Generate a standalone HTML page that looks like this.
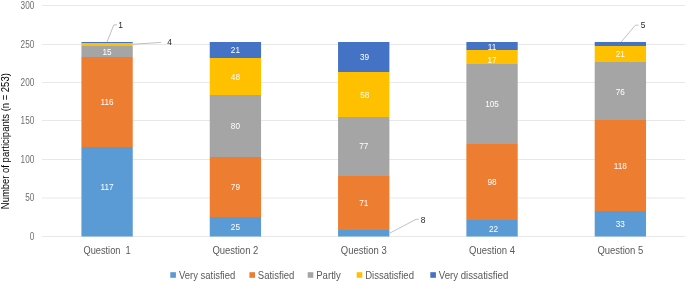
<!DOCTYPE html>
<html><head><meta charset="utf-8"><style>
html,body{margin:0;padding:0;background:#fff;}
body{width:685px;height:282px;overflow:hidden;}
svg{display:block;will-change:transform;filter:blur(0.4px);}
text{font-family:"Liberation Sans",sans-serif;}
.yl{font-size:10.4px;fill:#6E6E6E;}
.dl{font-size:8.2px;fill:#FFFFFF;}
.ol{font-size:8.4px;fill:#262626;}
.xl{font-size:10.2px;fill:#595959;}
.lg{font-size:10px;fill:#595959;}
.yt{font-size:11.4px;fill:#000;}
</style></head><body>
<svg width="685" height="282" viewBox="0 0 685 282">
<rect width="685" height="282" fill="#fff"/>
<line x1="42" x2="685" y1="236.5" y2="236.5" stroke="#E8E8E8" stroke-width="1"/>
<line x1="42" x2="685" y1="198.0" y2="198.0" stroke="#E8E8E8" stroke-width="1"/>
<line x1="42" x2="685" y1="159.5" y2="159.5" stroke="#E8E8E8" stroke-width="1"/>
<line x1="42" x2="685" y1="120.5" y2="120.5" stroke="#E8E8E8" stroke-width="1"/>
<line x1="42" x2="685" y1="82.5" y2="82.5" stroke="#E8E8E8" stroke-width="1"/>
<line x1="42" x2="685" y1="44.5" y2="44.5" stroke="#E8E8E8" stroke-width="1"/>
<line x1="42" x2="685" y1="5.5" y2="5.5" stroke="#E8E8E8" stroke-width="1"/>
<text transform="translate(34.3,239.7) scale(0.79,1)" class="yl" text-anchor="end">0</text>
<text transform="translate(34.3,201.2) scale(0.79,1)" class="yl" text-anchor="end">50</text>
<text transform="translate(34.3,162.7) scale(0.79,1)" class="yl" text-anchor="end">100</text>
<text transform="translate(34.3,123.7) scale(0.79,1)" class="yl" text-anchor="end">150</text>
<text transform="translate(34.3,85.7) scale(0.79,1)" class="yl" text-anchor="end">200</text>
<text transform="translate(34.3,47.7) scale(0.79,1)" class="yl" text-anchor="end">250</text>
<text transform="translate(34.3,8.7) scale(0.79,1)" class="yl" text-anchor="end">300</text>
<rect x="81.42" y="147.00" width="51.33" height="89.50" fill="#5B9BD5"/>
<rect x="81.42" y="57.00" width="51.33" height="90.00" fill="#ED7D31"/>
<rect x="81.42" y="46.00" width="51.33" height="11.00" fill="#A5A5A5"/>
<rect x="81.42" y="43.00" width="51.33" height="3.00" fill="#FFC000"/>
<rect x="81.42" y="42.00" width="51.33" height="1.00" fill="#4472C4"/>
<text x="107.08" y="190.43" class="dl" text-anchor="middle">117</text>
<text x="107.08" y="105.26" class="dl" text-anchor="middle">116</text>
<text x="107.08" y="54.90" class="dl" text-anchor="middle">15</text>
<rect x="209.74" y="217.00" width="51.33" height="19.50" fill="#5B9BD5"/>
<rect x="209.74" y="157.00" width="51.33" height="60.00" fill="#ED7D31"/>
<rect x="209.74" y="95.00" width="51.33" height="62.00" fill="#A5A5A5"/>
<rect x="209.74" y="58.00" width="51.33" height="37.00" fill="#FFC000"/>
<rect x="209.74" y="42.00" width="51.33" height="16.00" fill="#4472C4"/>
<text x="235.40" y="230.19" class="dl" text-anchor="middle">25</text>
<text x="235.40" y="190.21" class="dl" text-anchor="middle">79</text>
<text x="235.40" y="129.09" class="dl" text-anchor="middle">80</text>
<text x="235.40" y="79.89" class="dl" text-anchor="middle">48</text>
<text x="235.40" y="53.37" class="dl" text-anchor="middle">21</text>
<rect x="338.06" y="230.00" width="51.33" height="6.50" fill="#5B9BD5"/>
<rect x="338.06" y="176.00" width="51.33" height="54.00" fill="#ED7D31"/>
<rect x="338.06" y="117.00" width="51.33" height="59.00" fill="#A5A5A5"/>
<rect x="338.06" y="72.00" width="51.33" height="45.00" fill="#FFC000"/>
<rect x="338.06" y="42.00" width="51.33" height="30.00" fill="#4472C4"/>
<text x="363.72" y="206.36" class="dl" text-anchor="middle">71</text>
<text x="363.72" y="149.47" class="dl" text-anchor="middle">77</text>
<text x="364.72" y="97.57" class="dl" text-anchor="middle">58</text>
<text x="364.62" y="60.29" class="dl" text-anchor="middle">39</text>
<rect x="466.38" y="220.00" width="51.33" height="16.50" fill="#5B9BD5"/>
<rect x="466.38" y="144.00" width="51.33" height="76.00" fill="#ED7D31"/>
<rect x="466.38" y="64.00" width="51.33" height="80.00" fill="#A5A5A5"/>
<rect x="466.38" y="50.00" width="51.33" height="14.00" fill="#FFC000"/>
<rect x="466.38" y="42.00" width="51.33" height="8.00" fill="#4472C4"/>
<text x="493.54" y="232.34" class="dl" text-anchor="middle">22</text>
<text x="492.04" y="185.22" class="dl" text-anchor="middle">98</text>
<text x="492.04" y="107.18" class="dl" text-anchor="middle">105</text>
<text x="492.04" y="62.99" class="dl" text-anchor="middle">17</text>
<text x="492.04" y="50.22" class="dl" text-anchor="middle">11</text>
<rect x="594.70" y="211.00" width="51.33" height="25.50" fill="#5B9BD5"/>
<rect x="594.70" y="120.00" width="51.33" height="91.00" fill="#ED7D31"/>
<rect x="594.70" y="62.00" width="51.33" height="58.00" fill="#A5A5A5"/>
<rect x="594.70" y="46.00" width="51.33" height="16.00" fill="#FFC000"/>
<rect x="594.70" y="42.00" width="51.33" height="4.00" fill="#4472C4"/>
<text x="620.36" y="227.11" class="dl" text-anchor="middle">33</text>
<text x="620.36" y="169.07" class="dl" text-anchor="middle">118</text>
<text x="620.36" y="94.50" class="dl" text-anchor="middle">76</text>
<text x="620.36" y="57.21" class="dl" text-anchor="middle">21</text>
<polyline points="107,42 113.8,24.9 117,24.9" fill="none" stroke="#ABABAB" stroke-width="0.75"/>
<text x="120.5" y="28.2" class="ol" text-anchor="middle">1</text>
<polyline points="133,44.2 161.2,42.4" fill="none" stroke="#ABABAB" stroke-width="0.75"/>
<text x="169.6" y="45.2" class="ol" text-anchor="middle">4</text>
<polyline points="389.7,233.2 416,219.3 418.8,219.3" fill="none" stroke="#ABABAB" stroke-width="0.75"/>
<text x="423" y="223" class="ol" text-anchor="middle">8</text>
<polyline points="621.1,42 635.4,25.2 638.5,25.2" fill="none" stroke="#ABABAB" stroke-width="0.75"/>
<text x="643" y="27.8" class="ol" text-anchor="middle">5</text>
<text x="107.08" y="254.2" class="xl" text-anchor="middle" textLength="47.2" lengthAdjust="spacingAndGlyphs">Question&#160;&#160;1</text>
<text x="235.40" y="254.2" class="xl" text-anchor="middle" textLength="45.9" lengthAdjust="spacingAndGlyphs">Question 2</text>
<text x="363.72" y="254.2" class="xl" text-anchor="middle" textLength="45.9" lengthAdjust="spacingAndGlyphs">Question 3</text>
<text x="492.04" y="254.2" class="xl" text-anchor="middle" textLength="45.9" lengthAdjust="spacingAndGlyphs">Question 4</text>
<text x="620.36" y="254.2" class="xl" text-anchor="middle" textLength="45.9" lengthAdjust="spacingAndGlyphs">Question 5</text>
<rect x="170.3" y="272.2" width="5.6" height="5.6" fill="#5B9BD5"/>
<text x="179.0" y="278.5" class="lg" textLength="56.2" lengthAdjust="spacingAndGlyphs">Very satisfied</text>
<rect x="249.4" y="272.2" width="5.6" height="5.6" fill="#ED7D31"/>
<text x="257.8" y="278.5" class="lg" textLength="36.6" lengthAdjust="spacingAndGlyphs">Satisfied</text>
<rect x="307.7" y="272.2" width="5.6" height="5.6" fill="#A5A5A5"/>
<text x="316.2" y="278.5" class="lg" textLength="24.6" lengthAdjust="spacingAndGlyphs">Partly</text>
<rect x="356.7" y="272.2" width="5.6" height="5.6" fill="#FFC000"/>
<text x="365.2" y="278.5" class="lg" textLength="48.8" lengthAdjust="spacingAndGlyphs">Dissatisfied</text>
<rect x="430.3" y="272.2" width="5.6" height="5.6" fill="#4472C4"/>
<text x="438.8" y="278.5" class="lg" textLength="69.5" lengthAdjust="spacingAndGlyphs">Very dissatisfied</text>
<text transform="translate(9.2,141.2) rotate(-90)" class="yt" text-anchor="middle" textLength="136" lengthAdjust="spacingAndGlyphs">Number of participants (n = 253)</text>
</svg>
</body></html>
